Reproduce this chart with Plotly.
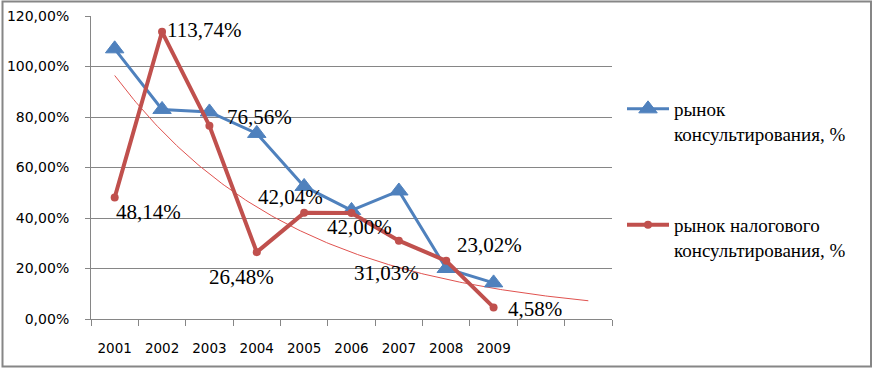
import numpy as np
import plotly.graph_objects as go

years = ["2001", "2002", "2003", "2004", "2005", "2006", "2007", "2008", "2009"]
consulting = [107.0, 83.0, 82.0, 73.5, 52.5, 43.0, 50.7, 20.0, 14.3]
tax_consulting = [48.14, 113.74, 76.56, 26.48, 42.04, 42.00, 31.03, 23.02, 4.58]
forecast_periods = 2
name_consulting = "рынок<br>консультирования, %"
name_tax = "рынок налогового<br>консультирования, %"

# label offsets (pixels) for data labels of tax series
label_dx = [34, 42, 50, -15, -14, 8, -12, 43, 41]
label_dy = [-15, 2, 9, -25, 16, -14, -32, 16, -2]

xs = np.arange(1, len(years) + 1)
blue = "#4F81BD"
red = "#C0504D"
grid = "#868686"
serif = "Liberation Serif, serif"
sans = "DejaVu Sans, sans-serif"

# exponential trend of the tax series (Excel-like), forecast forward
b, ln_a = np.polyfit(xs, np.log(tax_consulting), 1)
xt = np.linspace(1, len(years) + forecast_periods, 200)
yt = np.exp(ln_a + b * xt)

fig = go.Figure()
fig.add_trace(go.Scatter(
    x=xt, y=yt / 100, mode="lines", line=dict(color="#E0524F", width=1),
    showlegend=False, hoverinfo="skip"))
fig.add_trace(go.Scatter(
    x=xs, y=np.array(consulting) / 100, mode="lines+markers", name=name_consulting,
    line=dict(color=blue, width=3),
    marker=dict(symbol="triangle-up", size=16, color=blue, line=dict(color=blue, width=1)),
    legend="legend"))
fig.add_trace(go.Scatter(
    x=xs, y=np.array(tax_consulting) / 100, mode="lines+markers", name=name_tax,
    line=dict(color=red, width=4),
    marker=dict(symbol="circle", size=8, color=red),
    legend="legend2"))

L, R, T, B = 91, 261, 16, 49
W, H = 873, 368
pw, ph = W - L - R, H - T - B

def px(xp):
    return (xp - L) / pw

def py(yp):
    return (H - B - yp) / ph

for x, v, dx, dy in zip(xs, tax_consulting, label_dx, label_dy):
    fig.add_annotation(
        x=x, y=v / 100, xref="x", yref="y", showarrow=False,
        text=f"{v:.2f}%".replace(".", ","),
        font=dict(family=serif, size=21, color="black"),
        xshift=dx, yshift=dy)

fig.update_layout(
    width=W, height=H,
    margin=dict(l=L, r=R, t=T, b=B, autoexpand=False),
    paper_bgcolor="white", plot_bgcolor="white",
    separators=", ",
    shapes=[dict(type="rect", xref="paper", yref="paper",
                 x0=px(2.5), x1=px(871), y0=py(366.5), y1=py(1.5),
                 line=dict(color=grid, width=2), layer="above")],
    xaxis=dict(
        range=[0.5, len(years) + forecast_periods + 0.5],
        tickmode="array", tickvals=list(xs), ticktext=years,
        ticks="", showgrid=False, zeroline=False,
        showline=True, linecolor=grid, linewidth=1,
        tickfont=dict(family=sans, size=13.5, color="black"),
        ticklabelstandoff=17,
        minor=dict(tickmode="linear", tick0=0.5, dtick=1, ticks="outside",
                   ticklen=6, tickcolor=grid, tickwidth=1, showgrid=False),
    ),
    yaxis=dict(
        range=[0, 1.2], tickmode="linear", tick0=0, dtick=0.2,
        tickformat=".2%", showgrid=True, gridcolor=grid, gridwidth=1,
        zeroline=False, showline=True, linecolor=grid, linewidth=1,
        ticks="outside", ticklen=5, tickcolor=grid,
        tickfont=dict(family=sans, size=14, color="black"),
        ticklabelstandoff=13,
    ),
    legend=dict(x=px(622), y=py(90), xanchor="left", yanchor="top",
                valign="top", bgcolor="rgba(0,0,0,0)", itemwidth=42,
                font=dict(family=serif, size=19, color="black")),
    legend2=dict(x=px(622), y=py(206), xanchor="left", yanchor="top",
                 valign="top", bgcolor="rgba(0,0,0,0)", itemwidth=42,
                 font=dict(family=serif, size=19, color="black")),
)

fig.write_html("out.html", config={"displayModeBar": False},
               post_script="document.body.style.margin='0';document.body.style.overflow='hidden';")
